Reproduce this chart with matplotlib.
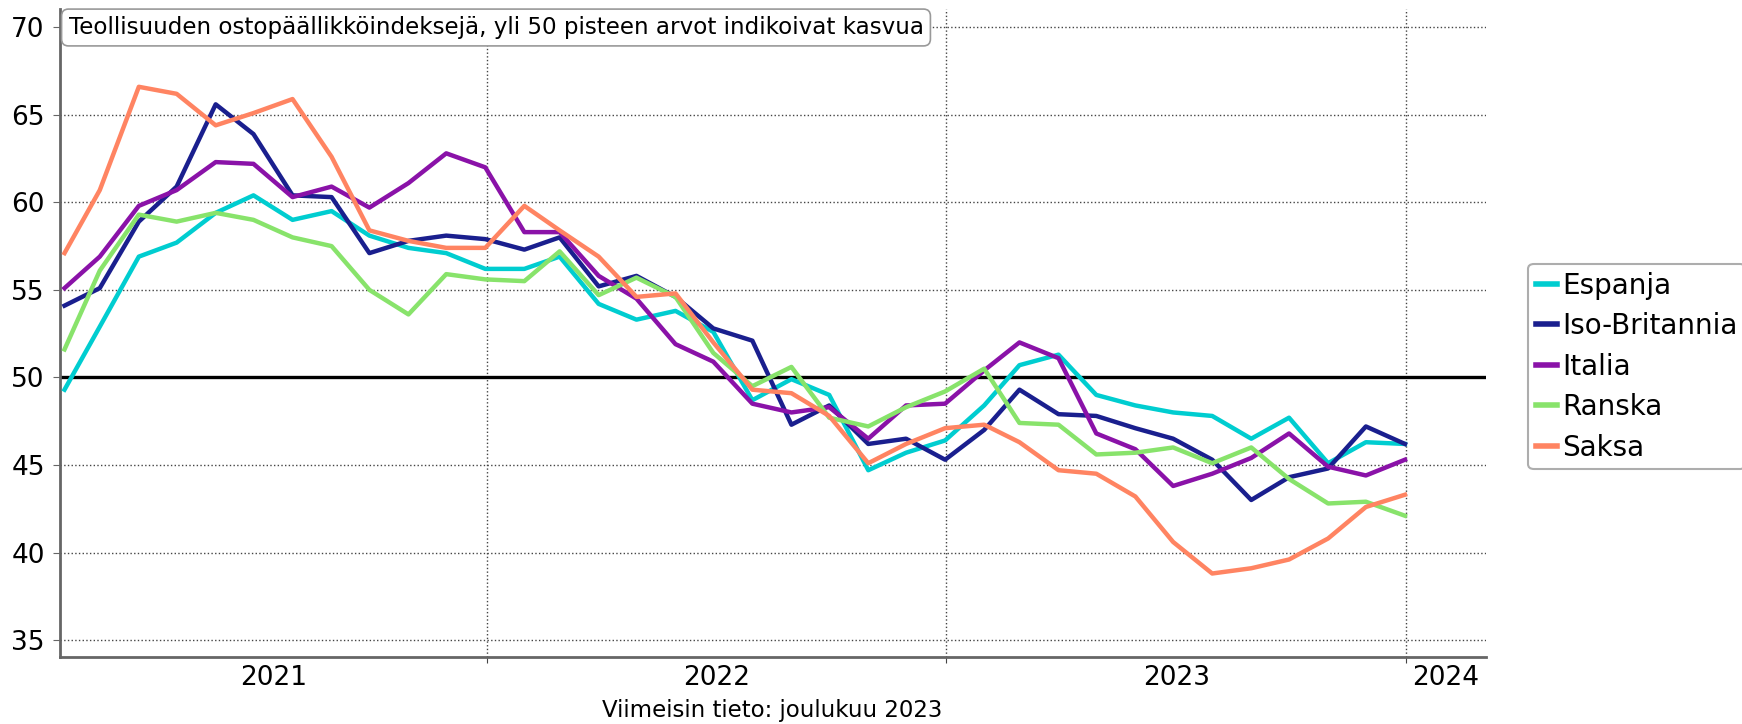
import matplotlib
matplotlib.use("Agg")
import matplotlib.pyplot as plt
import matplotlib.dates as mdates
import pandas as pd

# kuukausittaiset ostopäällikköindeksit (teollisuus), tammi 2021 - joulu 2023
months = pd.date_range("2021-01-01", periods=36, freq="MS") + pd.offsets.MonthEnd(0)

espanja = [49.3, 52.9, 56.9, 57.7, 59.4, 60.4, 59.0, 59.5, 58.1, 57.4, 57.1, 56.2,
           56.2, 56.9, 54.2, 53.3, 53.8, 52.6, 48.7, 49.9, 49.0, 44.7, 45.7, 46.4,
           48.4, 50.7, 51.3, 49.0, 48.4, 48.0, 47.8, 46.5, 47.7, 45.1, 46.3, 46.2]
iso_britannia = [54.1, 55.1, 58.9, 60.9, 65.6, 63.9, 60.4, 60.3, 57.1, 57.8, 58.1, 57.9,
                 57.3, 58.0, 55.2, 55.8, 54.6, 52.8, 52.1, 47.3, 48.4, 46.2, 46.5, 45.3,
                 47.0, 49.3, 47.9, 47.8, 47.1, 46.5, 45.3, 43.0, 44.3, 44.8, 47.2, 46.2]
italia = [55.1, 56.9, 59.8, 60.7, 62.3, 62.2, 60.3, 60.9, 59.7, 61.1, 62.8, 62.0,
          58.3, 58.3, 55.8, 54.5, 51.9, 50.9, 48.5, 48.0, 48.3, 46.5, 48.4, 48.5,
          50.4, 52.0, 51.1, 46.8, 45.9, 43.8, 44.5, 45.4, 46.8, 44.9, 44.4, 45.3]
ranska = [51.6, 56.1, 59.3, 58.9, 59.4, 59.0, 58.0, 57.5, 55.0, 53.6, 55.9, 55.6,
          55.5, 57.2, 54.7, 55.7, 54.6, 51.4, 49.5, 50.6, 47.7, 47.2, 48.3, 49.2,
          50.5, 47.4, 47.3, 45.6, 45.7, 46.0, 45.1, 46.0, 44.2, 42.8, 42.9, 42.1]
saksa = [57.1, 60.7, 66.6, 66.2, 64.4, 65.1, 65.9, 62.6, 58.4, 57.8, 57.4, 57.4,
         59.8, 58.4, 56.9, 54.6, 54.8, 52.0, 49.3, 49.1, 47.8, 45.1, 46.2, 47.1,
         47.3, 46.3, 44.7, 44.5, 43.2, 40.6, 38.8, 39.1, 39.6, 40.8, 42.6, 43.3]

names = ["Espanja", "Iso-Britannia", "Italia", "Ranska", "Saksa"]
colors = ["#00cdd0", "#1a1f8e", "#8a12a8", "#88e36b", "#ff8462"]
years = ["2021", "2022", "2023", "2024"]

plt.rcParams["font.family"] = "DejaVu Sans"

fig = plt.figure(figsize=(17.42, 7.24), dpi=100)
ax = fig.add_axes([0.0345, 0.093, 0.8183, 0.8947])

for vals, name, c in zip([espanja, iso_britannia, italia, ranska, saksa], names, colors):
    ax.plot(months, vals, color=c, lw=3.2, label=name, zorder=3)

ax.axhline(50, color="black", lw=2.4, zorder=2)

left = pd.Timestamp("2021-01-27 12:00")
right = pd.Timestamp("2024-03-04")
ax.set_xlim(left, right)
ax.set_ylim(34.05, 71.05)

# vuosirajat gridiin, vuosiluvut näkyvän osuuden keskelle
bounds = pd.to_datetime(["2022-01-01", "2023-01-01", "2024-01-01"])
edges = [mdates.date2num(left)] + list(mdates.date2num(bounds)) + [mdates.date2num(right)]
centers = [(edges[k] + edges[k + 1]) / 2 for k in range(len(years))]
ax.set_xticks(mdates.date2num(bounds))
ax.set_xticklabels([])
ax.set_xticks(centers, minor=True)
ax.set_xticklabels(years, minor=True)
ax.tick_params(axis="x", which="minor", length=0, labelsize=19, pad=6)
ax.tick_params(axis="x", which="major", length=4, color="#444444")
ax.xaxis.grid(True, which="major", linestyle=":", color="#444444", lw=1)

ax.set_yticks([35, 40, 45, 50, 55, 60, 65, 70])
ax.tick_params(axis="y", labelsize=19, length=5, color="#666666", pad=6)
ax.yaxis.grid(True, linestyle=":", color="#444444", lw=1)
ax.set_axisbelow(True)

for s in ["top", "right"]:
    ax.spines[s].set_visible(False)
for s in ["left", "bottom"]:
    ax.spines[s].set_color("#666666")
    ax.spines[s].set_linewidth(2)

fig.text(68.5 / 1742, 1 - 16 / 724,
         "Teollisuuden ostopäällikköindeksejä, yli 50 pisteen arvot indikoivat kasvua",
         fontsize=16.6, va="top", ha="left",
         bbox=dict(boxstyle="round,pad=0.3", fc="white", ec="#999999", lw=1.2))

fig.text(772 / 1742, 1 - 711 / 724, "Viimeisin tieto: joulukuu 2023",
         fontsize=16.5, ha="center", va="center")

leg = ax.legend(loc="center left", bbox_to_anchor=(1528 / 1742, 1 - 366.7 / 724),
                bbox_transform=fig.transFigure, fontsize=20, frameon=True,
                handlelength=0.75, handletextpad=0.2, borderpad=0.28,
                labelspacing=0.45, borderaxespad=0, fancybox=True)
leg.get_frame().set_edgecolor("#999999")
leg.get_frame().set_linewidth(1.5)
for line in leg.get_lines():
    line.set_linewidth(4)

fig.savefig("out.png", dpi=100)
